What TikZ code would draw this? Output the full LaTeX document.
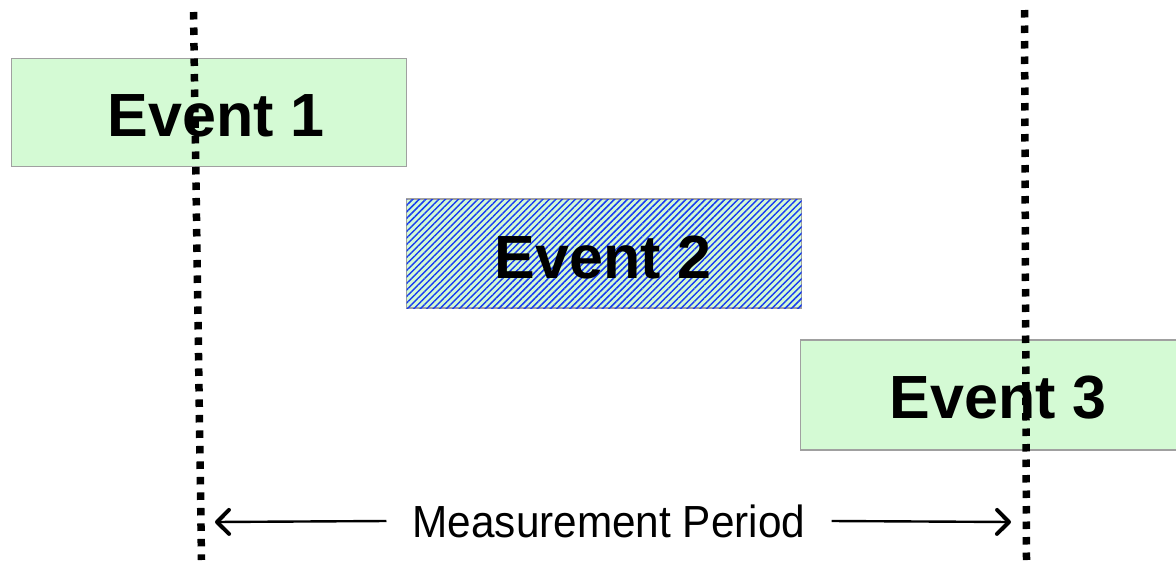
\documentclass[tikz,border=0pt]{standalone}
\usepackage{fontspec}
\setmainfont{Liberation Sans}
\usetikzlibrary{arrows.meta,patterns.meta}
\definecolor{evfill}{RGB}{212,250,212}
\definecolor{evborder}{RGB}{160,160,160}
\definecolor{hatch}{RGB}{25,60,240}
\tikzset{
  eventbox/.style={draw=evborder, line width=1.5pt, fill=evfill, inner sep=0pt,
    minimum width=395pt, minimum height=108pt,
    font=\fontsize{61}{70}\selectfont\bfseries},
  hatched/.style={postaction={pattern={Lines[angle=45,distance=4.6pt,line width=1.5pt]}, pattern color=hatch}},
  boundary/.style={line width=7.5pt, dash pattern=on 7.5pt off 8pt},
  measure/.style={line width=2.4pt, arrows={-Straight Barb[length=12pt,width=24pt,line width=4pt,round]}},
}
\begin{document}
\begin{tikzpicture}[x=1pt,y=-1pt]
\useasboundingbox (0,0) rectangle (1176,560);
\clip (0,0) rectangle (1176,560);
\node[eventbox] (e1) at (209,112.5) {};
\node[eventbox, minimum height=109pt, hatched] (e2) at (604,253.5) {};
\node[eventbox, minimum height=110pt] (e3) at (998,395) {};
\node[font=\fontsize{61}{70}\selectfont\bfseries] (t1) at (216,116) {Event 1};
\node[font=\fontsize{61}{70}\selectfont\bfseries] (t2) at (603,257) {Event 2};
\node[font=\fontsize{61}{70}\selectfont\bfseries] (t3) at (998,398) {Event 3};
\coordinate (l1) at (193.5,12);
\coordinate (l2) at (201.5,560);
\coordinate (r1) at (1024.5,10);
\coordinate (r2) at (1026.5,560);
\draw[boundary] (l1) -- (l2);
\draw[boundary] (r1) -- (r2);
\node[font=\fontsize{45}{52}\selectfont, xscale=0.94, inner sep=0pt] (mp) at (609,521) {Measurement Period};
\coordinate (la) at (215,522);
\coordinate (ra) at (1011,522);
\draw[measure] (mp.west) ++(-26,0) coordinate (ms) -- (la);
\draw[measure] (mp.east) ++(26,0) coordinate (me) -- (ra);
\end{tikzpicture}
\end{document}
